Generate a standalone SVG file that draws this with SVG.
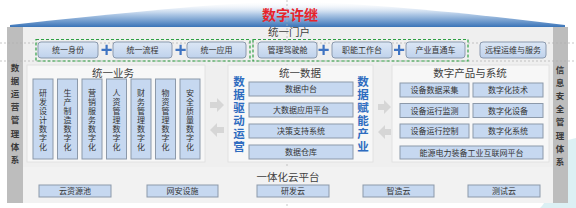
<svg xmlns="http://www.w3.org/2000/svg" width="576" height="208" viewBox="0 0 576 208">
<defs>
<linearGradient id="banner" x1="0" y1="0" x2="0" y2="1">
<stop offset="0" stop-color="#ffffff" stop-opacity="0"/>
<stop offset="0.5" stop-color="#b3cbe7"/>
<stop offset="1" stop-color="#3a74b8"/>
</linearGradient>
<linearGradient id="btn" x1="0" y1="0" x2="0" y2="1">
<stop offset="0" stop-color="#dce7f5"/>
<stop offset="1" stop-color="#bfd2ec"/>
</linearGradient>
</defs>
<style>
text{font-family:"Noto Sans CJK SC","Noto Sans",sans-serif;fill:#333;}
.t{font-size:8px;text-anchor:middle;}
.v{font-size:8px;text-anchor:middle;writing-mode:vertical-rl;letter-spacing:1px;}
.h{font-size:10.5px;text-anchor:middle;fill:#404040;}
.side{font-size:8.5px;font-weight:bold;text-anchor:middle;fill:#3a3a3a;writing-mode:vertical-rl;letter-spacing:4.6px;}
.bold{font-size:11.5px;font-weight:bold;text-anchor:middle;fill:#2e6cc0;writing-mode:vertical-rl;letter-spacing:1.5px;}
.btn{fill:url(#btn);stroke:#8a99ae;stroke-width:1;}
.box{fill:#c6d8f0;stroke:#8c99aa;stroke-width:1;}
.panel{fill:#f7f7f7;stroke:#e2e2e2;stroke-width:1;}
.green{fill:none;stroke:#2ea043;stroke-width:1.2;stroke-dasharray:3 2;}
.guide{fill:none;stroke:#b0b0b0;stroke-width:0.7;stroke-dasharray:2 2;}
.plus{fill:#3f74c2;}
.arr{fill:#d6d6d6;}
.gray{fill:#bdbdbd;}
</style>
<rect width="576" height="208" fill="#ffffff"/>
<path d="M430 170 C480 160 530 150 576 138 L576 208 L540 208 C560 190 520 175 430 170 Z" fill="#cde9ef" opacity="0.7"/>
<path d="M10 25 C120 13 220 3 290 1 C360 3 470 13 565 25 L565 27 L10 27 Z" fill="url(#banner)"/>
<text x="290" y="20" style="font-size:14px;font-weight:bold;fill:#e8232a;text-anchor:middle;">数字许继</text>
<rect x="23" y="27" width="530" height="176" fill="#efefef"/>
<rect x="7" y="27" width="16" height="176" class="gray"/>
<rect x="553" y="27" width="15" height="176" class="gray"/>
<g id="left-side">
<text class="side" x="15" y="116">数据运营管理体系</text>
</g>
<g id="right-side">
<text class="side" x="560" y="118">信息安全管理体系</text>
</g>
<line class="guide" x1="0" y1="43" x2="576" y2="43"/>
<line class="guide" x1="0" y1="61" x2="576" y2="61"/>
<line class="guide" x1="287" y1="0" x2="287" y2="208"/>
<g id="portal">
<text class="h" x="289" y="36">统一门户</text>
<rect class="green" x="36" y="39.5" width="214" height="21.5"/>
<rect class="green" x="253" y="39.5" width="215" height="21.5"/>
<rect class="btn" x="38" y="42" width="60" height="16" rx="3"/><text class="t" x="68" y="53">统一身份</text>
<rect class="btn" x="113" y="42" width="59" height="16" rx="3"/><text class="t" x="142.5" y="53">统一流程</text>
<rect class="btn" x="187" y="42" width="59" height="16" rx="3"/><text class="t" x="216.5" y="53">统一应用</text>
<rect class="btn" x="258" y="42" width="59" height="16" rx="3"/><text class="t" x="287.5" y="53">管理驾驶舱</text>
<rect class="btn" x="332" y="42" width="60" height="16" rx="3"/><text class="t" x="362" y="53">职能工作台</text>
<rect class="btn" x="406" y="42" width="59" height="16" rx="3"/><text class="t" x="435.5" y="53">产业直通车</text>
<rect class="btn" x="480" y="42" width="66" height="16" rx="3"/><text class="t" x="513" y="53">远程运维与服务</text>
<path class="plus" d="M101.5 48.8h4v-4h2.2v4h4v2.2h-4v4h-2.2v-4h-4z"/>
<path class="plus" d="M175.5 48.8h4v-4h2.2v4h4v2.2h-4v4h-2.2v-4h-4z"/>
<path class="plus" d="M318.5 48.8h4v-4h2.2v4h4v2.2h-4v4h-2.2v-4h-4z"/>
<path class="plus" d="M394 48.8h4v-4h2.2v4h4v2.2h-4v4h-2.2v-4h-4z"/>
</g>
<g id="business">
<rect class="panel" x="27" y="65" width="178" height="97"/>
<text class="h" x="113" y="77">统一业务</text>
<rect class="box" x="33" y="79" width="20" height="80"/>
<rect class="box" x="57.5" y="79" width="20" height="80"/>
<rect class="box" x="82" y="79" width="20" height="80"/>
<rect class="box" x="106.5" y="79" width="20" height="80"/>
<rect class="box" x="131" y="79" width="20" height="80"/>
<rect class="box" x="155.5" y="79" width="20" height="80"/>
<rect class="box" x="180" y="79" width="20" height="80"/>
<text class="v" x="43" y="120">研发设计数字化</text>
<text class="v" x="67.5" y="120">生产制造数字化</text>
<text class="v" x="92" y="120">营销服务数字化</text>
<text class="v" x="116.5" y="120">人资管理数字化</text>
<text class="v" x="141" y="120">财务管理数字化</text>
<text class="v" x="165.5" y="120">物资管理数字化</text>
<text class="v" x="190" y="120">安全质量数字化</text>
</g>
<g id="data">
<rect class="panel" x="228" y="65" width="145" height="97"/>
<text class="h" x="300" y="77">统一数据</text>
<rect class="box" x="249" y="82" width="104" height="14"/><text class="t" x="301" y="92">数据中台</text>
<rect class="box" x="249" y="103" width="104" height="14"/><text class="t" x="301" y="113">大数据应用平台</text>
<rect class="box" x="249" y="124" width="104" height="14"/><text class="t" x="301" y="134">决策支持系统</text>
<rect class="box" x="249" y="145" width="104" height="14"/><text class="t" x="301" y="155">数据仓库</text>
<text class="bold" x="239" y="115">数据驱动运营</text>
<text class="bold" x="363" y="115">数据赋能产业</text>
</g>
<g id="products">
<rect class="panel" x="392" y="65" width="157" height="97"/>
<text class="h" x="470" y="77">数字产品与系统</text>
<rect class="box" x="400" y="83" width="69" height="14"/><text class="t" x="434.5" y="93">设备数据采集</text>
<rect class="box" x="473" y="83" width="70" height="14"/><text class="t" x="508" y="93">数字化技术</text>
<rect class="box" x="400" y="103.5" width="69" height="14"/><text class="t" x="434.5" y="113.5">设备运行监测</text>
<rect class="box" x="473" y="103.5" width="70" height="14"/><text class="t" x="508" y="113.5">数字化设备</text>
<rect class="box" x="400" y="124" width="69" height="14"/><text class="t" x="434.5" y="134">设备运行控制</text>
<rect class="box" x="473" y="124" width="70" height="14"/><text class="t" x="508" y="134">数字化系统</text>
<rect class="box" x="400" y="146" width="143" height="13"/><text class="t" x="471.5" y="155.5">能源电力装备工业互联网平台</text>
</g>
<g id="cloud">
<rect x="23" y="167" width="530" height="36" fill="#f2f2f2"/>
<text class="h" x="288" y="180.5">一体化云平台</text>
<rect class="box" x="39" y="185" width="72" height="12"/><text class="t" x="75" y="194">云资源池</text>
<rect class="box" x="147" y="185" width="71" height="12"/><text class="t" x="182.5" y="194">网安设施</text>
<rect class="box" x="257" y="185" width="72" height="12"/><text class="t" x="293" y="194">研发云</text>
<rect class="box" x="363" y="185" width="71" height="12"/><text class="t" x="398.5" y="194">智造云</text>
<rect class="box" x="468" y="185" width="72" height="12"/><text class="t" x="504" y="194">测试云</text>
</g>
<g id="connectors">
<path class="arr" d="M210 102h7v-4l7 7l-7 7v-4h-7z"/>
<path class="arr" d="M224 127h-7v-4l-7 7l7 7v-4h7z"/>
<path class="arr" d="M378 104h6v-4l7 7l-7 7v-4h-6z"/>
<path class="arr" d="M391 129h-6v-4l-7 7l7 7v-4h6z"/>
</g>
</svg>
